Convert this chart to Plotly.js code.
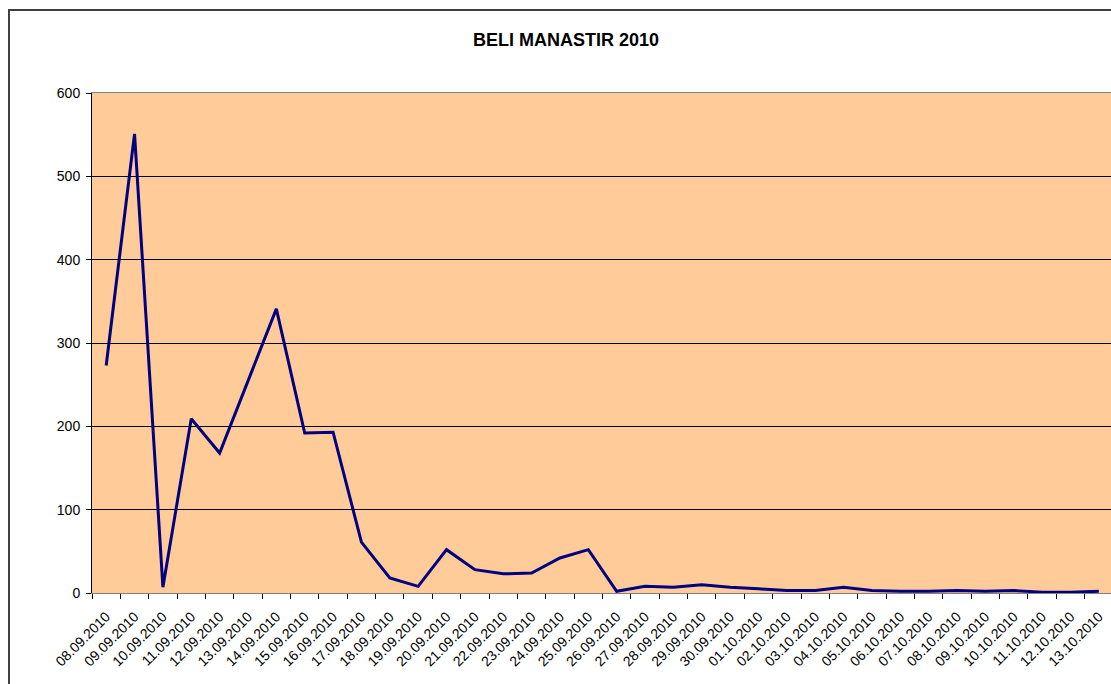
<!DOCTYPE html>
<html>
<head>
<meta charset="utf-8">
<script src="https://cdn.plot.ly/plotly-3.0.1.min.js"></script>
<style>
  html, body { margin: 0; padding: 0; background: #fff; overflow: hidden; }
  #okvir {
    position: absolute; left: 8px; top: 9px;
    border: 2px solid #404040;
    width: 1116px; height: 690px;
  }
</style>
</head>
<body>
<div id="okvir"><div id="grafico"></div></div>
<script>
  // datumi i vrijednosti očitani s grafikona
  let datumi = [
    '08.09.2010', '09.09.2010', '10.09.2010', '11.09.2010', '12.09.2010', '13.09.2010',
    '14.09.2010', '15.09.2010', '16.09.2010', '17.09.2010', '18.09.2010', '19.09.2010',
    '20.09.2010', '21.09.2010', '22.09.2010', '23.09.2010', '24.09.2010', '25.09.2010',
    '26.09.2010', '27.09.2010', '28.09.2010', '29.09.2010', '30.09.2010', '01.10.2010',
    '02.10.2010', '03.10.2010', '04.10.2010', '05.10.2010', '06.10.2010', '07.10.2010',
    '08.10.2010', '09.10.2010', '10.10.2010', '11.10.2010', '12.10.2010', '13.10.2010'
  ];
  let vrijednosti = [
    273, 551, 7, 209, 168, 255,
    341, 192, 193, 61, 18, 8,
    52, 28, 23, 24, 42, 52,
    2, 8, 7, 10, 7, 5,
    3, 3, 7, 3, 2, 2,
    3, 2, 3, 1, 1, 2
  ];
  let yTicks = [0, 100, 200, 300, 400, 500, 600];

  let font = { family: 'Arial, "Liberation Sans", sans-serif', color: '#000' };

  let layout = {
    width: 1116,
    height: 690,
    margin: { l: 82, r: 13, t: 82, b: 108 },
    paper_bgcolor: '#ffffff',
    plot_bgcolor: '#FFCC99',
    showlegend: false,
    font: font,
    title: {
      text: '<b>BELI MANASTIR 2010</b>',
      font: { family: font.family, size: 18, color: '#000' },
      xref: 'container', x: 556 / 1116, xanchor: 'center',
      yref: 'container', y: 1 - 29 / 690, yanchor: 'middle'
    },
    xaxis: {
      type: 'category',
      range: [-0.5, datumi.length - 0.5],
      tickangle: -45,
      tickfont: { size: 14 },
      ticks: 'outside',
      ticklen: 5,
      tickcolor: '#000',
      tickson: 'boundaries',
      ticklabelstandoff: 9,
      showgrid: false,
      showline: true,
      linecolor: '#808080',
      linewidth: 1,
      mirror: true,
      zeroline: false
    },
    yaxis: {
      range: [0, 600],
      tickvals: yTicks,
      tickfont: { size: 14 },
      ticks: 'outside',
      ticklen: 5,
      tickcolor: '#000',
      ticklabelstandoff: 3,
      showgrid: true,
      gridcolor: '#000',
      gridwidth: 1,
      showline: true,
      linecolor: '#000',
      linewidth: 1,
      zeroline: false
    }
  };

  let traza = {
    x: datumi,
    y: vrijednosti,
    type: 'scatter',
    mode: 'lines',
    line: { color: '#000080', width: 3 },
    hoverinfo: 'x+y'
  };

  Plotly.newPlot('grafico', [traza], layout, { displayModeBar: false, staticPlot: true });
</script>
</body>
</html>
